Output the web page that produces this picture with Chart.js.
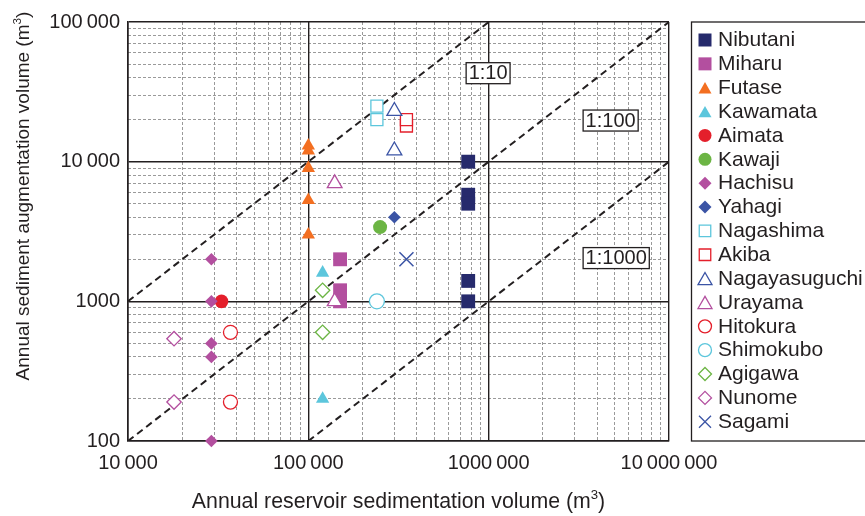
<!DOCTYPE html>
<html>
<head>
<meta charset="utf-8">
<script src="https://cdn.jsdelivr.net/npm/chart.js@4/dist/chart.umd.min.js"></script>
<style>
  html, body { margin: 0; padding: 0; background: #ffffff; }
  #wrap { width: 865px; height: 516px; }
</style>
</head>
<body>
<div id="wrap"><canvas id="chart" width="865" height="516"></canvas></div>
<script>
// Annual reservoir sedimentation volume (x) vs annual sediment augmentation volume (y), m3
const nibutani      = [[770000, 10000], [770000, 5800], [770000, 5000], [770000, 1400], [770000, 1000]];
const miharu        = [[150000, 2000], [150000, 1200], [150000, 1000]];
const futase        = [[100000, 13000], [100000, 12000], [100000, 9000], [100000, 5300], [100000, 3000]];
const kawamata      = [[120000, 1600], [120000, 200]];
const aimata        = [[33000, 1000]];
const kawaji        = [[250000, 3400]];
const hachisu       = [[29000, 2000], [29000, 1000], [29000, 500], [29000, 400], [29000, 100]];
const yahagi        = [[300000, 4000]];
const nagashima     = [[240000, 25000], [240000, 20000]];
const akiba         = [[350000, 18000], [350000, 20000]];
const nagayasuguchi = [[300000, 23000], [300000, 12000]];
const urayama       = [[140000, 7000], [140000, 1000]];
const hitokura      = [[37000, 600], [37000, 190]];
const shimokubo     = [[240000, 1000]];
const agigawa       = [[120000, 1200], [120000, 600]];
const nunome        = [[18000, 540], [18000, 190]];
const sagami        = [[350000, 2000]];

const siteNames = ['Nibutani', 'Miharu', 'Futase', 'Kawamata', 'Aimata', 'Kawaji', 'Hachisu', 'Yahagi',
  'Nagashima', 'Akiba', 'Nagayasuguchi', 'Urayama', 'Hitokura', 'Shimokubo', 'Agigawa', 'Nunome', 'Sagami'];
const siteData = [nibutani, miharu, futase, kawamata, aimata, kawaji, hachisu, yahagi,
  nagashima, akiba, nagayasuguchi, urayama, hitokura, shimokubo, agigawa, nunome, sagami];

// Reference ratio lines (augmentation : sedimentation)
const line1to10   = [[10000, 1000], [1000000, 100000]];
const line1to100  = [[10000, 100], [10000000, 100000]];
const line1to1000 = [[100000, 100], [10000000, 10000]];
const ratioLabels = ['1:10', '1:100', '1:1000'];
const ratioLabelAt = [[750000, 43000], [3340000, 19700], [3340000, 2040]];

// Axis decades and their labels
const xDecades = [10000, 100000, 1000000, 10000000];
const xTickLabels = ['10\u2009000', '100\u2009000', '1000\u2009000', '10\u2009000\u2009000'];
const yDecades = [100, 1000, 10000, 100000];
const yTickLabels = ['100', '1000', '10\u2009000', '100\u2009000'];

const FONT = '"Liberation Sans", Arial, Helvetica, sans-serif';
const INK = '#231f20';

const NAVY = '#262a6c', MAGENTA = '#b34f9f', ORANGE = '#f36f21', CYAN = '#5cc6dc',
      RED = '#e41f2b', GREEN = '#6cb544', BLUE = '#3b54a5';

// marker: [shape, filled, colour, radius]
const siteMarkers = [
  ['rect', true, NAVY, 9.8],
  ['rect', true, MAGENTA, 9.8],
  ['triangle', true, ORANGE, 7.7],
  ['triangle', true, CYAN, 7.7],
  ['circle', true, RED, 6.8],
  ['circle', true, GREEN, 7],
  ['rectRot', true, MAGENTA, 6.3],
  ['rectRot', true, BLUE, 6.3],
  ['rect', false, CYAN, 8.5],
  ['rect', false, RED, 8.5],
  ['triangle', false, BLUE, 8.6],
  ['triangle', false, MAGENTA, 8.5],
  ['circle', false, RED, 7],
  ['circle', false, CYAN, 7.5],
  ['rectRot', false, GREEN, 7.2],
  ['rectRot', false, MAGENTA, 7.2],
  ['crossRot', false, BLUE, 9.9]
];

function minorValues(decades) {
  const out = [];
  for (let i = 0; i < decades.length - 1; i++) {
    for (let k = 2; k <= 9; k++) out.push(k * decades[i]);
  }
  return out;
}

const toPoints = arr => arr.map(([x, y]) => ({ x, y }));

const siteSets = siteNames.map((name, i) => {
  const [shape, filled, color, r] = siteMarkers[i];
  return {
    label: name,
    data: toPoints(siteData[i]),
    pointStyle: shape,
    pointRadius: r,
    pointHoverRadius: r,
    backgroundColor: filled ? color : '#ffffff',
    borderColor: color,
    borderWidth: filled ? 0 : (shape === 'crossRot' ? 1.5 : 1.3),
    clip: false,
    order: -i
  };
});

const ratioSets = [line1to10, line1to100, line1to1000].map((pts, i) => ({
  label: ratioLabels[i],
  data: toPoints(pts),
  showLine: true,
  pointRadius: 0,
  borderColor: INK,
  borderWidth: 2,
  borderDash: [7, 4.5],
  fill: false,
  order: 100
}));

function drawIcon(ctx, shape, filled, color, x, y) {
  ctx.save();
  ctx.beginPath();
  if (shape === 'rect') {
    const s = filled ? 13 : 11.5;
    ctx.rect(x - s / 2, y - s / 2, s, s);
  } else if (shape === 'triangle') {
    const w = filled ? 13 : 14, h = w * 0.87;
    ctx.moveTo(x, y - h / 2);
    ctx.lineTo(x + w / 2, y + h / 2);
    ctx.lineTo(x - w / 2, y + h / 2);
    ctx.closePath();
  } else if (shape === 'circle') {
    ctx.arc(x, y, 6.5, 0, Math.PI * 2);
  } else if (shape === 'rectRot') {
    const d = 6.5;
    ctx.moveTo(x, y - d); ctx.lineTo(x + d, y); ctx.lineTo(x, y + d); ctx.lineTo(x - d, y);
    ctx.closePath();
  } else if (shape === 'crossRot') {
    const d = 6;
    ctx.moveTo(x - d, y - d); ctx.lineTo(x + d, y + d);
    ctx.moveTo(x + d, y - d); ctx.lineTo(x - d, y + d);
  }
  if (filled) {
    ctx.fillStyle = color;
    ctx.fill();
  } else {
    ctx.strokeStyle = color;
    ctx.lineWidth = 1.3;
    ctx.stroke();
  }
  ctx.restore();
}

// Site legend in a framed panel to the right of the plot
const siteLegend = {
  id: 'siteLegend',
  afterDatasetsDraw(chart) {
    const { ctx, chartArea: a } = chart;
    const left = a.right + 22.5;
    ctx.save();
    ctx.strokeStyle = INK;
    ctx.lineWidth = 1.3;
    ctx.strokeRect(left, a.top, chart.width - left + 10, a.bottom - a.top);
    ctx.font = '21px ' + FONT;
    ctx.textBaseline = 'middle';
    siteNames.forEach((name, i) => {
      const y = a.top + 18 + i * 23.86;
      const [shape, filled, color] = siteMarkers[i];
      drawIcon(ctx, shape, filled, color, left + 13.5, y);
      ctx.fillStyle = INK;
      ctx.fillText(name, left + 26.5, y + 0.5);
    });
    ctx.restore();
  }
};

// Boxed ratio tags next to the reference lines
const ratioTags = {
  id: 'ratioTags',
  afterDatasetsDraw(chart) {
    const { ctx } = chart;
    const xs = chart.scales.x, ys = chart.scales.y;
    ctx.save();
    ctx.font = '20px ' + FONT;
    ctx.textBaseline = 'middle';
    ratioLabels.forEach((t, i) => {
      const px = xs.getPixelForValue(ratioLabelAt[i][0]);
      const py = ys.getPixelForValue(ratioLabelAt[i][1]);
      const w = ctx.measureText(t).width + 5;
      ctx.fillStyle = '#ffffff';
      ctx.fillRect(px, py - 10.5, w, 21);
      ctx.strokeStyle = INK;
      ctx.lineWidth = 1.3;
      ctx.strokeRect(px, py - 10.5, w, 21);
      ctx.fillStyle = INK;
      ctx.fillText(t, px + 2.5, py + 0.5);
    });
    ctx.restore();
  }
};

function drawSupTitle(ctx, base, sup, tail, size) {
  ctx.font = size + 'px ' + FONT;
  const wBase = ctx.measureText(base).width;
  const wTail = ctx.measureText(tail).width;
  ctx.font = (size * 0.62) + 'px ' + FONT;
  const wSup = ctx.measureText(sup).width;
  const total = wBase + wSup + wTail;
  let x = -total / 2;
  ctx.textBaseline = 'alphabetic';
  ctx.textAlign = 'left';
  ctx.font = size + 'px ' + FONT;
  ctx.fillText(base, x, size * 0.36);
  x += wBase;
  ctx.font = (size * 0.62) + 'px ' + FONT;
  ctx.fillText(sup, x, size * 0.36 - size * 0.4);
  x += wSup;
  ctx.font = size + 'px ' + FONT;
  ctx.fillText(tail, x, size * 0.36);
}

// Axis titles with a superscript unit
const axisTitles = {
  id: 'axisTitles',
  afterDraw(chart) {
    const { ctx, chartArea: a } = chart;
    ctx.save();
    ctx.fillStyle = INK;
    ctx.translate((a.left + a.right) / 2, 500);
    drawSupTitle(ctx, 'Annual reservoir sedimentation volume (m', '3', ')', 21.3);
    ctx.restore();
    ctx.save();
    ctx.fillStyle = INK;
    ctx.translate(22, 196);
    ctx.rotate(-Math.PI / 2);
    drawSupTitle(ctx, 'Annual sediment augmentation volume (m', '3', ')', 19);
    ctx.restore();
  }
};

const minorGrid = { color: '#9a9a9a', lineWidth: 1, drawTicks: false };

new Chart(document.getElementById('chart'), {
  type: 'scatter',
  data: { datasets: [...siteSets, ...ratioSets] },
  options: {
    responsive: false,
    animation: false,
    devicePixelRatio: 1,
    events: [],
    layout: { padding: { top: 22, right: 196, bottom: 0, left: 0 } },
    plugins: { legend: { display: false }, tooltip: { enabled: false } },
    scales: {
      xMinor: {
        type: 'logarithmic', axis: 'x', position: 'bottom', min: 10000, max: 10000000,
        afterBuildTicks: s => { s.ticks = minorValues(xDecades).map(v => ({ value: v })); },
        afterFit: s => { s.height = 0; },
        ticks: { display: false },
        grid: minorGrid,
        border: { display: false, dash: [3, 2] }
      },
      yMinor: {
        type: 'logarithmic', axis: 'y', position: 'left', min: 100, max: 100000,
        afterBuildTicks: s => { s.ticks = minorValues(yDecades).map(v => ({ value: v })); },
        afterFit: s => { s.width = 0; },
        ticks: { display: false },
        grid: minorGrid,
        border: { display: false, dash: [3, 2] }
      },
      x: {
        type: 'logarithmic', position: 'bottom', min: 10000, max: 10000000,
        afterBuildTicks: s => { s.ticks = xDecades.map(v => ({ value: v })); },
        afterFit: s => { s.height = 75; },
        ticks: {
          callback: (v, i) => xTickLabels[i],
          autoSkip: false, maxRotation: 0, padding: 10.5,
          color: INK, font: { family: FONT, size: 20 }
        },
        grid: { color: INK, lineWidth: 1.4, drawTicks: false },
        border: { color: INK, width: 1.6 }
      },
      y: {
        type: 'logarithmic', position: 'left', min: 100, max: 100000,
        afterBuildTicks: s => { s.ticks = yDecades.map(v => ({ value: v })); },
        afterFit: s => { s.width = 128; },
        ticks: {
          callback: (v, i) => yTickLabels[i],
          autoSkip: false, padding: 8,
          color: INK, font: { family: FONT, size: 20 }
        },
        grid: { color: INK, lineWidth: 1.4, drawTicks: false },
        border: { color: INK, width: 1.6 }
      }
    }
  },
  plugins: [siteLegend, ratioTags, axisTitles]
});
</script>
</body>
</html>
